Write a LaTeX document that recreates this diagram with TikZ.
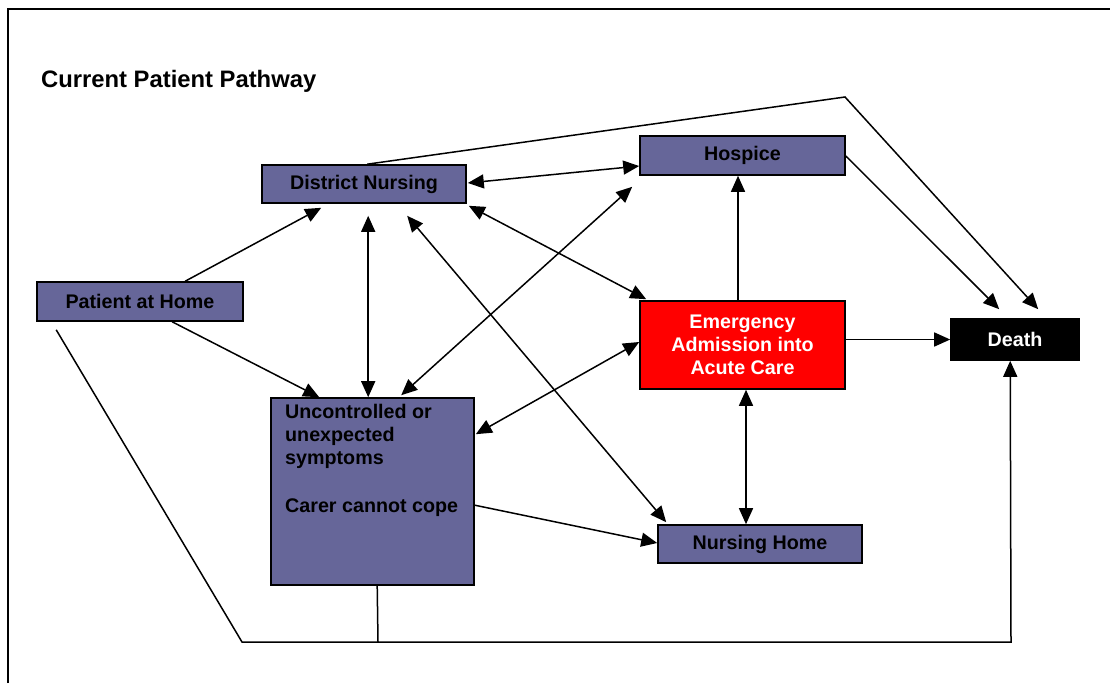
\documentclass[tikz,border=0pt]{standalone}
\usepackage{fontspec}
\setmainfont{Liberation Sans}
\usetikzlibrary{arrows.meta,calc}
\definecolor{boxblue}{HTML}{666699}
\definecolor{emred}{HTML}{FF0000}
\tikzset{
  box/.style={draw=black, line width=1.6pt, fill=boxblue, inner sep=0pt, align=center,
    font=\fontsize{19.7}{23}\selectfont\bfseries},
  conn/.style={line width=1.5pt, draw=black},
  tip/.style={-{Triangle[length=16pt,width=14pt]}},
  bitip/.style={{Triangle[length=16pt,width=14pt]}-{Triangle[length=16pt,width=14pt]}},
}
\begin{document}
\begin{tikzpicture}[x=1pt,y=-1pt]
\useasboundingbox (0,0) rectangle (1110,683);
\fill[white] (0,0) rectangle (1110,683);
% frame
\draw[line width=2pt] (8,683) -- (8,9) -- (1110,9);
% title
\node[anchor=base west, inner sep=0pt, font=\fontsize{23.8}{28}\selectfont\bfseries] (title) at (41,87) {Current Patient Pathway};
% nodes
\node[box, minimum width=204pt, minimum height=38pt] (dn) at (364,184) {District Nursing};
\node[box, minimum width=205pt, minimum height=39pt] (hos) at (742.5,155.5) {Hospice};
\node[box, fill=emred, text=white, minimum width=205pt, minimum height=88pt] (em) at (742.5,345) {Emergency\\Admission into\\Acute Care};
\node[box, fill=black, text=white, minimum width=128pt, minimum height=41pt] (death) at (1015,339.5) {Death};
\node[box, minimum width=206pt, minimum height=39pt] (pah) at (140,301.5) {Patient at Home};
\node[box, minimum width=203pt, minimum height=187pt] (unc) at (372.5,491.5) {};
\node[anchor=north west, inner sep=0pt, align=left, text=black,
  font=\fontsize{19.7}{23}\selectfont\bfseries] (unctext) at (285,404)
  {Uncontrolled or\\unexpected\\symptoms\\[25pt]Carer cannot cope};
\node[box, minimum width=204pt, minimum height=38pt] (nh) at (760,544) {Nursing Home};
% coordinates
\coordinate (topbend) at (845,97);
\coordinate (botleft) at (242,642);
\coordinate (botright) at (1011,642);
\coordinate (stub) at (378,642);
% connectors
\draw[conn,tip] ([xshift=149pt]pah.north west) -- ([xshift=60pt,yshift=-4pt]dn.south west);
\draw[conn,tip] ([xshift=136pt]pah.south west) -- ([xshift=49pt]unc.north west);
\draw[conn,bitip] ([xshift=107pt,yshift=-12pt]dn.south west) -- ([xshift=98pt]unc.north west);
\draw[conn,bitip] ([xshift=1pt,yshift=1pt]dn.east) -- ([yshift=-10.5pt]hos.west);
\draw[conn,bitip] ([xshift=2pt,yshift=-2pt]dn.south east) -- ([xshift=7pt,yshift=1pt]em.north west);
\draw[conn,bitip] ([xshift=146pt,yshift=-12pt]dn.south west) -- ([xshift=9pt,yshift=2pt]nh.north west);
\draw[conn,bitip] ([xshift=-7pt,yshift=-11pt]hos.south west) -- ([xshift=131pt,yshift=2pt]unc.north west);
\draw[conn,bitip] ([yshift=3pt]em.west) -- ([xshift=1pt,yshift=-37pt]unc.north east);
\draw[conn,tip] ([yshift=-108pt]unc.north east) -- ([yshift=1pt]nh.west);
\draw[conn,bitip] ([xshift=3.5pt]em.south) -- ([xshift=-14pt]nh.north);
\draw[conn,tip] ([xshift=-4.5pt]em.north) -- ([xshift=-4.5pt]hos.south);
\draw[conn,tip] (em.east |- death.west) -- (death.west);
\draw[conn,tip] ([yshift=-0.5pt]hos.east) -- ([xshift=49pt,yshift=9pt]death.north west);
\draw[conn,tip] ([xshift=106pt]dn.north west) -- (topbend) -- ([xshift=88pt,yshift=9pt]death.north west);
\draw[conn,tip] ([xshift=20pt,yshift=-8pt]pah.south west) -- (botleft) -- (botright) -- ([xshift=60pt]death.south west);
\draw[conn] ([xshift=107pt]unc.south west) -- (stub);
\end{tikzpicture}
\end{document}
